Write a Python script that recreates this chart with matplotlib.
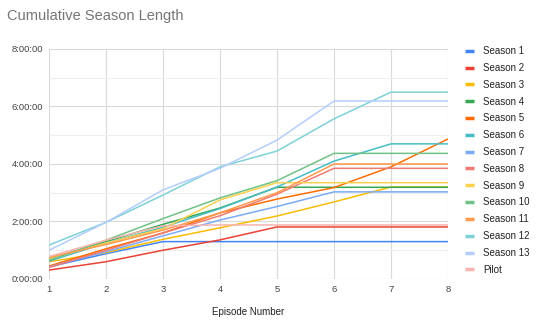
import matplotlib.pyplot as plt
from matplotlib.ticker import FuncFormatter, MultipleLocator

plt.rcParams['font.family'] = ['Liberation Sans', 'DejaVu Sans']

episodes = [1, 2, 3, 4, 5, 6, 7, 8]

# cumulative running time in hours after each episode
season_1 = [0.42, 0.88, 1.30, 1.30, 1.30, 1.30, 1.30, 1.30]
season_2 = [0.31, 0.60, 1.00, 1.36, 1.81, 1.81, 1.81, 1.81]
season_3 = [0.60, 0.92, 1.38, 1.78, 2.19, 2.68, 3.20, 3.20]
season_4 = [0.70, 1.30, 1.90, 2.47, 3.19, 3.19, 3.19, 3.19]
season_5 = [0.45, 1.05, 1.60, 2.30, 2.78, 3.18, 3.90, 4.87]
season_6 = [0.62, 1.25, 1.80, 2.45, 3.20, 4.10, 4.70, 4.70]
season_7 = [0.42, 0.95, 1.50, 2.05, 2.52, 3.03, 3.03, 3.03]
season_8 = [0.40, 1.00, 1.60, 2.20, 2.95, 3.85, 3.85, 3.85]
season_9 = [0.70, 1.25, 1.75, 2.75, 3.35, 3.35, 3.35, 3.35]
season_10 = [0.65, 1.35, 2.10, 2.82, 3.42, 4.37, 4.37, 4.37]
season_11 = [0.75, 1.20, 1.70, 2.30, 3.00, 4.00, 4.00, 4.00]
season_12 = [1.18, 1.97, 2.92, 3.90, 4.45, 5.57, 6.50, 6.50]
season_13 = [1.00, 1.97, 3.10, 3.85, 4.83, 6.19, 6.19, 6.19]
pilot = [0.78, 1.35, 1.85, 1.88, 1.88, 1.88, 1.88, 1.88]

series = [
    ("Season 1", season_1, "#4285f4"),
    ("Season 2", season_2, "#ea4335"),
    ("Season 3", season_3, "#fbbc04"),
    ("Season 4", season_4, "#34a853"),
    ("Season 5", season_5, "#ff6d01"),
    ("Season 6", season_6, "#46bdc6"),
    ("Season 7", season_7, "#7baaf7"),
    ("Season 8", season_8, "#f07b72"),
    ("Season 9", season_9, "#fcd04f"),
    ("Season 10", season_10, "#71c287"),
    ("Season 11", season_11, "#ff994d"),
    ("Season 12", season_12, "#7ed1d7"),
    ("Season 13", season_13, "#b3cefb"),
    ("Pilot", pilot, "#f7b4ae"),
]


def hms(v, pos):
    secs = int(round(v * 3600))
    return "%d:%02d:%02d" % (secs // 3600, secs % 3600 // 60, secs % 60)


fig = plt.figure(figsize=(5.4, 3.34), dpi=100)
ax = fig.add_axes([0.0907, 0.1647, 0.7389, 0.6886])

for name, vals, col in series:
    ax.plot(episodes, vals, color=col, lw=1.1, label=name, solid_capstyle="butt")

ax.set_xlim(1, 8)
ax.set_ylim(0, 8)
ax.xaxis.set_major_locator(MultipleLocator(1))
ax.yaxis.set_major_locator(MultipleLocator(2))
ax.yaxis.set_minor_locator(MultipleLocator(1))
ax.yaxis.set_major_formatter(FuncFormatter(hms))

ax.grid(which="major", color="#d9d9d9", lw=0.8)
ax.grid(which="minor", axis="y", color="#eeeeee", lw=0.8)
ax.set_axisbelow(True)
for s in ax.spines.values():
    s.set_visible(False)
ax.tick_params(which="both", length=0, labelsize=6.8, labelcolor="#444444", pad=4)

ax.set_xlabel("Episode Number", fontsize=7, color="#222222", labelpad=10)
fig.text(0.013, 0.94, "Cumulative Season Length", fontsize=10.5, color="#757575")

ax.legend(loc="upper left", bbox_to_anchor=(1.02, 1.05), frameon=False,
          fontsize=7, handlelength=1.0, handletextpad=0.9,
          labelspacing=0.7, labelcolor="#222222")
for h in ax.get_legend().get_lines():
    h.set_linewidth(2.5)

fig.savefig("out.png", dpi=100)
